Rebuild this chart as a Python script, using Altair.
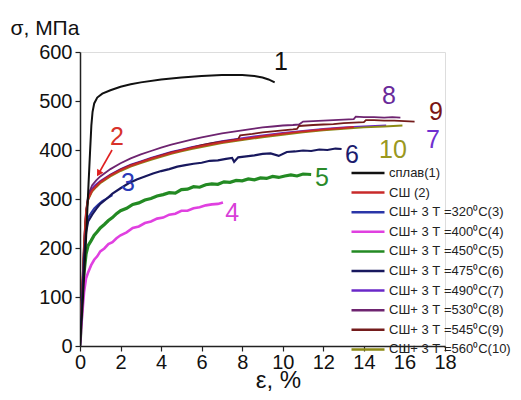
import altair as alt
import pandas as pd

FONT = "Liberation Sans"

labels = ["сплав(1)", "СШ (2)", "СШ+ 3 Т =320⁰C(3)", "СШ+ 3 Т =400⁰C(4)",
          "СШ+ 3 Т =450⁰C(5)", "СШ+ 3 Т =475⁰C(6)", "СШ+ 3 Т =490⁰C(7)",
          "СШ+ 3 Т =530⁰C(8)", "СШ+ 3 Т =545⁰C(9)", "СШ+ 3 Т =560⁰C(10)"]
colors = ["#111111", "#c82a2a", "#2a36a8", "#e040e0", "#238a23", "#18185e",
          "#6a28c8", "#6e2470", "#741c1c", "#8c8a14"]
widths = [2, 2, 2, 2.6, 3.2, 2.2, 1.8, 1.8, 1.8, 1.8]

x1 = [0, 0.15, 0.3, 0.42, 0.5, 0.56, 0.62, 0.7, 0.85, 1.1, 1.5, 2.0, 2.5, 3.0, 4.0, 5.0, 6.0, 7.0, 8.0, 8.6, 9.0, 9.3, 9.6]
y1 = [0, 100, 220, 330, 400, 450, 478, 495, 507, 515, 522, 529, 534, 538, 544, 548, 551, 553, 553, 551, 548, 544, 538]

x2 = [0, 0.1, 0.2, 0.3, 0.4, 0.6, 0.8, 1.0, 1.5, 2.0, 2.5, 3.0, 3.5, 4.0, 4.5, 5.0, 5.5, 6.0, 6.5, 7.0, 8.0, 9.0, 10.0, 11.0, 12.0, 13.0, 13.5]
y2 = [0, 105, 205, 272, 300, 317, 326, 334, 348, 359, 368, 375, 382, 388, 394, 399, 404, 408, 412, 416, 422, 428, 433, 438, 442, 445, 447]

x3 = [0, 0.1, 0.2, 0.3, 0.4, 0.55, 0.7, 0.9, 1.1, 1.35, 1.6]
y3 = [0, 95, 185, 238, 262, 272, 281, 289, 296, 302, 308]

x4 = [0, 0.1, 0.2, 0.3, 0.4, 0.55, 0.7, 0.85, 1.0, 1.2, 1.4, 1.6, 1.8, 2.0, 2.3, 2.6, 2.9, 3.2, 3.5, 3.8, 4.1, 4.4, 4.7, 5.0, 5.3, 5.6, 5.9, 6.2, 6.5, 6.8, 7.05]
y4 = [0, 60, 110, 138, 150, 165, 176, 183, 193, 199, 208, 212, 220, 226, 232, 241, 244, 251, 254, 260, 262, 268, 270, 276, 276, 281, 283, 287, 289, 290, 293]

x5 = [0, 0.1, 0.2, 0.3, 0.4, 0.55, 0.7, 0.85, 1.0, 1.2, 1.4, 1.6, 1.8, 2.0, 2.3, 2.6, 2.9, 3.2, 3.5, 3.8, 4.1, 4.4, 4.7, 5.0, 5.3, 5.6, 5.9, 6.2, 6.5, 6.8, 7.1, 7.4, 7.7, 8.0, 8.3, 8.6, 8.9, 9.2, 9.5, 9.8, 10.1, 10.4, 10.7, 11.0, 11.4]
y5 = [0, 80, 150, 188, 205, 215, 226, 233, 241, 248, 256, 262, 270, 276, 281, 289, 292, 298, 301, 306, 309, 313, 312, 319, 320, 325, 324, 329, 331, 330, 335, 334, 338, 337, 341, 339, 343, 342, 346, 344, 347, 349, 347, 351, 350]

x6 = [0, 0.1, 0.2, 0.3, 0.4, 0.6, 0.8, 1.0, 1.3, 1.6, 2.0, 2.4, 2.8, 3.2, 3.6, 4.0, 4.4, 4.8, 5.2, 5.6, 6.0, 6.4, 6.8, 7.2, 7.5, 7.6, 7.8, 8.2, 8.6, 9.0, 9.4, 9.8, 10.2, 10.6, 11.0, 11.4, 11.8, 12.2, 12.6, 12.9]
y6 = [0, 90, 180, 232, 254, 268, 280, 290, 300, 311, 322, 332, 340, 346, 352, 357, 361, 366, 369, 372, 374, 378, 379, 382, 384, 376, 385, 387, 389, 392, 393, 388, 396, 397, 399, 398, 401, 400, 403, 402]

x7 = [0, 0.12, 0.25, 0.35, 0.5, 0.7, 1.0, 1.5, 2.0, 2.5, 3.0, 3.5, 4.0, 4.5, 5.0, 5.5, 6.0, 6.5, 7.0, 7.5, 8.0, 9.0, 10.0, 11.0, 12.0, 13.0, 14.0, 15.1]
y7 = [0, 110, 230, 288, 315, 327, 337, 350, 361, 370, 377, 384, 390, 396, 401, 406, 410, 414, 418, 421, 424, 430, 435, 439, 443, 446, 448, 450]

x8 = [0, 0.12, 0.25, 0.4, 0.6, 0.8, 1.0, 1.5, 2.0, 2.5, 3.0, 3.5, 4.0, 4.5, 5.0, 5.5, 6.0, 6.5, 7.0, 7.5, 8.0, 8.5, 9.0, 9.5, 10.0, 10.5, 10.8, 11.0, 11.5, 12.0, 12.5, 13.0, 13.5, 13.6, 14.0, 14.5, 15.0, 15.4, 15.8]
y8 = [0, 120, 250, 308, 328, 338, 346, 361, 373, 383, 391, 398, 405, 411, 416, 421, 426, 430, 434, 437, 440, 443, 446, 448, 450, 451, 452, 458, 459, 460, 461, 462, 463, 468, 467, 467, 466, 467, 466]

x9 = [0, 0.1, 0.2, 0.3, 0.4, 0.6, 0.8, 1.0, 1.5, 2.0, 2.5, 3.0, 3.5, 4.0, 4.5, 5.0, 5.5, 6.0, 6.5, 7.0, 7.5, 7.8, 7.9, 8.5, 9.0, 9.5, 10.0, 10.5, 10.7, 10.8, 11.5, 12.0, 12.5, 13.0, 13.5, 14.0, 14.1, 14.5, 15.0, 15.5, 16.0, 16.5]
y9 = [0, 110, 210, 278, 303, 318, 327, 335, 349, 360, 369, 376, 383, 389, 395, 400, 405, 410, 414, 417, 420, 422, 430, 433, 436, 438, 440, 442, 443, 449, 451, 452, 453, 455, 456, 457, 461, 461, 460, 460, 459, 458]

x10 = [0, 0.1, 0.2, 0.3, 0.4, 0.6, 0.8, 1.0, 1.5, 2.0, 2.5, 3.0, 3.5, 4.0, 4.5, 5.0, 5.5, 6.0, 6.5, 7.0, 7.5, 8.0, 9.0, 10.0, 11.0, 12.0, 13.0, 14.0, 15.0, 15.9]
y10 = [0, 100, 200, 268, 298, 315, 324, 332, 346, 357, 366, 373, 380, 386, 392, 397, 402, 406, 410, 414, 417, 420, 426, 431, 436, 440, 443, 446, 448, 450]

curve_x = [x1, x2, x3, x4, x5, x6, x7, x8, x9, x10]
curve_y = [y1, y2, y3, y4, y5, y6, y7, y8, y9, y10]
draw_order = [4, 3, 6, 7, 2, 8, 9, 1, 5, 0]

# curve number labels
tag_text = ["1", "2", "3", "4", "5", "6", "7", "8", "9", "10"]
tag_x = [9.91, 1.82, 2.37, 7.5, 11.93, 13.41, 17.41, 15.24, 17.55, 15.43]
tag_y = [580, 427, 333, 271, 343, 390, 420, 510, 478, 400]
tag_color = ["#111111", "#d8322a", "#2a3ab8", "#d840d8", "#2a8a2a", "#1c1c6e",
             "#7030d0", "#6a2a9a", "#7a1414", "#9a9820"]

# arrow pointing to curve 2
arrow_x = [1.58, 0.92]
arrow_y = [400, 352]

rows = []
for k in draw_order:
    for i, (xv, yv) in enumerate(zip(curve_x[k], curve_y[k])):
        rows.append({"series": labels[k], "eps": xv, "sigma": yv, "sw": widths[k],
                     "ord": i, "z": draw_order.index(k)})
df = pd.DataFrame(rows)

xscale = alt.Scale(domain=[0, 18], nice=False, zero=False)
yscale = alt.Scale(domain=[0, 600], nice=False)

xaxis = alt.Axis(
    values=list(range(0, 19)),
    labelExpr="datum.value % 2 === 0 ? datum.label : ''",
    tickSize={"condition": {"test": "datum.value % 2 === 0", "value": 5}, "value": 3},
    title="ε, %", titleFont=FONT, titleFontSize=24, titleFontWeight="normal",
    titleColor="#111", titleX=198, titleY=41, titleAlign="center", titleBaseline="alphabetic",
    labelFont=FONT, labelFontSize=20, labelColor="#111", labelPadding=1,
    labelFlush=False, labelOverlap=False, grid=False,
    domainColor="#222", domainWidth=1.5, tickColor="#222", tickWidth=1.2,
)
yaxis = alt.Axis(
    values=list(range(0, 601, 50)),
    labelExpr="datum.value % 100 === 0 ? datum.label : ''",
    tickSize={"condition": {"test": "datum.value % 100 === 0", "value": 5}, "value": 3},
    title="σ, МПа", titleFont=FONT, titleFontSize=21, titleFontWeight="normal",
    titleColor="#111", titleAngle=0, titleX=-70, titleY=-18, titleAlign="left",
    titleBaseline="alphabetic",
    labelFont=FONT, labelFontSize=20, labelColor="#111", labelPadding=3,
    labelFlush=False, labelOverlap=False, grid=False,
    domainColor="#222", domainWidth=1.5, tickColor="#222", tickWidth=1.2,
)

lines = alt.Chart(df).mark_line(clip=True).encode(
    x=alt.X("eps:Q", scale=xscale, axis=xaxis),
    y=alt.Y("sigma:Q", scale=yscale, axis=yaxis),
    color=alt.Color("series:N", scale=alt.Scale(domain=labels, range=colors),
                    sort=labels,
                    legend=alt.Legend(
                        title=None, orient="none", legendX=281, legendY=114,
                        symbolType="M-3,0H3", symbolSize=121, symbolStrokeWidth=2.5,
                        symbolFillColor="transparent",
                        labelFont=FONT, labelFontSize=13, labelColor="#222",
                        labelOffset=14, rowPadding=5.6, padding=0, offset=0)),
    detail="z:N",
    strokeWidth=alt.StrokeWidth("sw:Q", scale=None),
    order="ord:Q",
)

tags_df = pd.DataFrame({"t": tag_text, "x": tag_x, "y": tag_y, "c": tag_color})
tags = alt.Chart(tags_df).mark_text(font=FONT, fontSize=25, align="center",
                                    baseline="middle").encode(
    x=alt.X("x:Q", scale=xscale),
    y=alt.Y("y:Q", scale=yscale),
    text="t:N",
    color=alt.Color("c:N", scale=None, legend=None),
)

arrow_df = pd.DataFrame({"x": arrow_x, "y": arrow_y})
arrow_line = alt.Chart(arrow_df).mark_line(color="#e02020", strokeWidth=1.6).encode(
    x=alt.X("x:Q", scale=xscale), y=alt.Y("y:Q", scale=yscale))
arrow_head = alt.Chart(arrow_df.iloc[[1]]).mark_point(
    shape="triangle-up", filled=True, color="#e02020", size=55, angle=211, opacity=1
).encode(x=alt.X("x:Q", scale=xscale), y=alt.Y("y:Q", scale=yscale))

chart = alt.layer(lines, arrow_line, arrow_head, tags).resolve_scale(
    color="independent"
).properties(
    width=365, height=294,
    padding={"left": 72, "top": 44, "right": 68, "bottom": 46},
    autosize=alt.AutoSizeParams(type="none"),
).configure_view(stroke=None).configure(background="white")

chart.save("out.html", embed_options={"renderer": "svg", "actions": False})
